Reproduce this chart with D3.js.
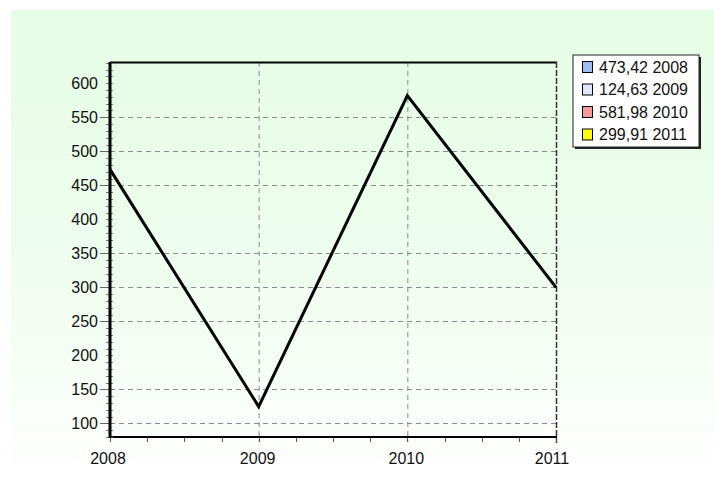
<!DOCTYPE html>
<html>
<head>
<meta charset="utf-8">
<script src="https://cdn.jsdelivr.net/npm/d3@7"></script>
<style>
  html, body { margin: 0; padding: 0; background: #ffffff; }
  svg { display: block; }
  text { font-family: "Liberation Sans", Arial, sans-serif; }
</style>
</head>
<body>
<svg id="chart" width="714" height="481"></svg>
<script>
// ---- data ----
const categories = ["2008", "2009", "2010", "2011"];
const values = [473.42, 124.63, 581.98, 299.91];
const legendLabels = ["473,42 2008", "124,63 2009", "581,98 2010", "299,91 2011"];
const legendColors = ["#9dbcf0", "#dde6ff", "#f59a9a", "#ffff00"];
const yTickLabels = [100, 150, 200, 250, 300, 350, 400, 450, 500, 550, 600];
const yGridValues = [100, 150, 250, 300, 350, 450, 500, 550];
const yMinorValues = d3.range(80, 631, 10);

// ---- layout ----
const W = 714, H = 481;
const plot = { left: 110, right: 556, top: 62, bottom: 437 };

const svg = d3.select("#chart");

// background gradient
const defs = svg.append("defs");
const grad = defs.append("linearGradient").attr("id", "bg").attr("x1", 0).attr("y1", 0).attr("x2", 0).attr("y2", 1);
grad.append("stop").attr("offset", "0%").attr("stop-color", "#e5fde5");
grad.append("stop").attr("offset", "55%").attr("stop-color", "#eefdee");
grad.append("stop").attr("offset", "100%").attr("stop-color", "#ffffff");
svg.append("rect").attr("x", 11).attr("y", 10).attr("width", W - 11).attr("height", H - 10)
  .attr("fill", "url(#bg)");

// scales
const x = d3.scalePoint().domain(categories).range([plot.left, plot.right]);
const y = d3.scaleLinear().domain([100, 600]).range([423.3, 83.3]);
const xq = d3.scaleLinear().domain([0, categories.length - 1]).range([plot.left, plot.right]);

// horizontal grid
svg.append("g").selectAll("line").data(yGridValues).join("line")
  .attr("x1", plot.left).attr("x2", plot.right)
  .attr("y1", d => Math.round(y(d)) + 0.5).attr("y2", d => Math.round(y(d)) + 0.5)
  .attr("stroke", "#8a8a8a").attr("stroke-width", 1).attr("stroke-dasharray", "5,4");

// vertical grid
svg.append("g").selectAll("line").data(categories.slice(1, -1)).join("line")
  .attr("x1", d => x(d) + 0.5).attr("x2", d => x(d) + 0.5)
  .attr("y1", plot.top).attr("y2", plot.bottom + 5)
  .attr("stroke", "#8a8a8a").attr("stroke-width", 1).attr("stroke-dasharray", "5,4");

// frame: top solid, right dashed dark
svg.append("line").attr("x1", plot.left).attr("x2", plot.right + 1)
  .attr("y1", plot.top + 0.5).attr("y2", plot.top + 0.5)
  .attr("stroke", "#000").attr("stroke-width", 2);
svg.append("line").attr("x1", plot.right + 0.5).attr("x2", plot.right + 0.5)
  .attr("y1", plot.top).attr("y2", plot.bottom + 6)
  .attr("stroke", "#333").attr("stroke-width", 1.5).attr("stroke-dasharray", "6,2");

// x minor ticks (quarters)
const quarters = d3.range(0, categories.length - 1 + 0.001, 0.25);
svg.append("g").selectAll("line").data(quarters).join("line")
  .attr("x1", d => Math.round(xq(d)) + 0.5).attr("x2", d => Math.round(xq(d)) + 0.5)
  .attr("y1", plot.bottom).attr("y2", plot.bottom + 5)
  .attr("stroke", "#555").attr("stroke-width", 1);

// bottom axis line
svg.append("line").attr("x1", plot.left).attr("x2", plot.right + 1)
  .attr("y1", plot.bottom).attr("y2", plot.bottom)
  .attr("stroke", "#000").attr("stroke-width", 2);

// y minor ticks
svg.append("g").selectAll("line").data(yMinorValues).join("line")
  .attr("x1", plot.left - 4).attr("x2", plot.left + 3)
  .attr("y1", d => Math.round(y(d)) + 0.5).attr("y2", d => Math.round(y(d)) + 0.5)
  .attr("stroke", "#777").attr("stroke-width", 1);

// y major ticks (only where gridlines exist)
svg.append("g").selectAll("line").data(yGridValues).join("line")
  .attr("x1", plot.left - 10).attr("x2", plot.left)
  .attr("y1", d => Math.round(y(d)) + 0.5).attr("y2", d => Math.round(y(d)) + 0.5)
  .attr("stroke", "#666").attr("stroke-width", 1);

// y axis line
svg.append("line").attr("x1", plot.left).attr("x2", plot.left)
  .attr("y1", plot.top).attr("y2", plot.bottom + 1)
  .attr("stroke", "#000").attr("stroke-width", 3);

// y labels
svg.append("g").selectAll("text").data(yTickLabels).join("text")
  .attr("x", 98).attr("y", d => y(d))
  .attr("dy", "0.36em")
  .attr("text-anchor", "end")
  .attr("font-size", 16).attr("fill", "#111")
  .text(d => d);

// x labels
svg.append("g").selectAll("text").data(categories).join("text")
  .attr("x", (d, i) => x(d) - (i === 0 ? 2 : (i === categories.length - 1 ? 4 : 1)))
  .attr("y", 464)
  .attr("text-anchor", "middle")
  .attr("font-size", 16).attr("fill", "#111")
  .text(d => d);

// data line
const line = d3.line().x((d, i) => x(categories[i])).y(d => y(d));
svg.append("path").datum(values).attr("d", line)
  .attr("fill", "none").attr("stroke", "#000").attr("stroke-width", 3)
  .attr("stroke-linejoin", "miter");

// legend
const lg = svg.append("g");
const lx = 573, ly = 55, lw = 126, lh = 92;
lg.append("rect").attr("x", lx + 2).attr("y", ly + 2).attr("width", lw).attr("height", lh).attr("fill", "#222");
lg.append("rect").attr("x", lx).attr("y", ly).attr("width", lw).attr("height", lh)
  .attr("fill", "#ffffff").attr("stroke", "#222").attr("stroke-width", 1);
const rows = lg.selectAll("g.row").data(legendLabels).join("g").attr("class", "row")
  .attr("transform", (d, i) => `translate(${lx}, ${ly + 12 + i * 22.5})`);
rows.append("rect").attr("x", 9.5).attr("y", -5.5).attr("width", 10).attr("height", 11)
  .attr("fill", (d, i) => legendColors[i]).attr("stroke", "#000").attr("stroke-width", 1);
rows.append("text").attr("x", 26).attr("y", 0).attr("dy", "0.36em")
  .attr("font-size", 16).attr("fill", "#111")
  .text(d => d);
</script>
</body>
</html>
